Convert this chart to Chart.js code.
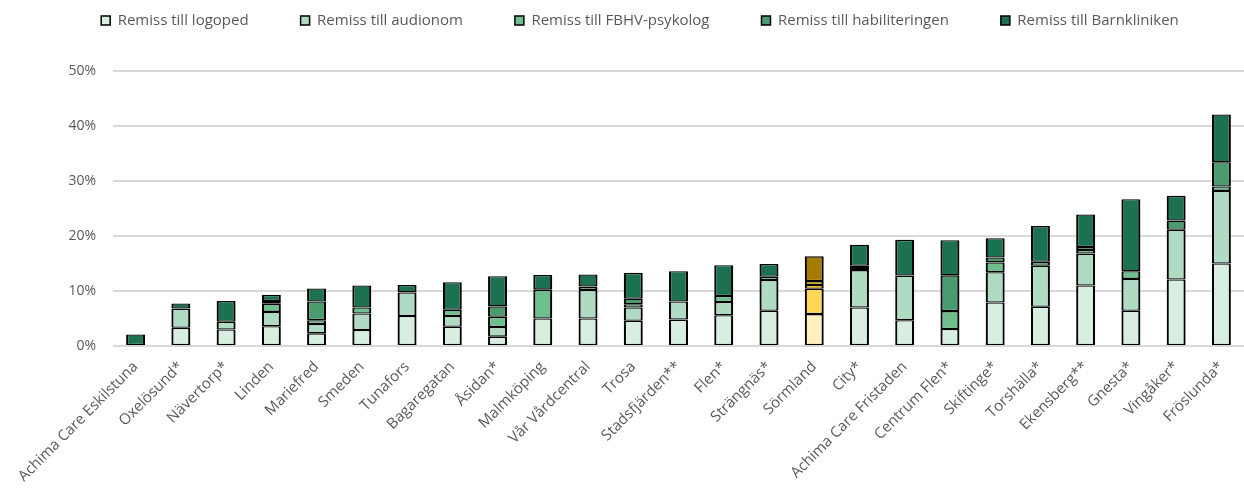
<!DOCTYPE html>
<html>
<head>
<meta charset="utf-8">
<script src="https://cdn.jsdelivr.net/npm/chart.js@4.4.1/dist/chart.umd.min.js"></script>
<style>
    html, body { margin: 0; padding: 0; background: #fff; }
    #wrap { width: 1244px; height: 491px; position: relative; }
</style>
</head>
<body>
<div id="wrap"><canvas id="remiss-chart"></canvas></div>
<script>
// Vårdcentraler, sorterade efter total andel remisser
const categories = ['Achima Care Eskilstuna', 'Oxelösund*', 'Nävertorp*', 'Linden', 'Mariefred', 'Smeden',
    'Tunafors', 'Bagaregatan', 'Åsidan*', 'Malmköping', 'Vår Vårdcentral', 'Trosa', 'Stadsfjärden**',
    'Flen*', 'Strängnäs*', 'Sörmland', 'City*', 'Achima Care Fristaden', 'Centrum Flen*', 'Skiftinge*',
    'Torshälla*', 'Ekensberg**', 'Gnesta*', 'Vingåker*', 'Fröslunda*'];

// andel i procent
const logoped      = [0, 3.3, 3.0, 3.6, 2.3, 2.9, 5.45, 3.5, 1.7, 5.0, 5.0, 4.6, 4.8, 5.6, 6.4, 5.8, 7.0, 4.7, 3.1, 7.9, 7.15, 11.0, 6.4, 12.1, 15.0];
const audionom     = [0, 3.5, 1.4, 2.6, 1.7, 3.0, 4.3, 1.95, 1.75, 0, 5.2, 2.4, 3.3, 2.4, 5.6, 4.6, 6.8, 8.1, 0, 5.5, 7.45, 5.8, 5.8, 9.05, 13.2];
const fbhvPsykolog = [0, 0, 0, 1.5, 0.7, 1.1, 0, 1.15, 1.85, 5.25, 0.6, 0.6, 0, 1.1, 0.6, 0.7, 0.4, 0, 3.25, 1.8, 0, 0.65, 1.4, 0, 0.8];
const habilitering = [0, 0, 0, 0.5, 3.4, 0, 0, 0, 1.9, 0, 0, 1.0, 0, 0, 0, 0.7, 0.4, 0, 6.5, 0.9, 0.7, 0.55, 0, 1.65, 4.4];
const barnkliniken = [2.1, 0.95, 3.8, 1.1, 2.35, 4.0, 1.35, 5.0, 5.5, 2.65, 2.2, 4.7, 5.5, 5.6, 2.3, 4.5, 3.8, 6.5, 6.4, 3.5, 6.5, 5.9, 13.1, 4.5, 8.7];

const yTicks = [0, 10, 20, 30, 40, 50];

const regionIdx = categories.indexOf('Sörmland');
const textFont = 'Open Sans';

function makeSet(label, data, green, yellow) {
    return {
        label: label,
        data: data,
        backgroundColor: ctx => ctx.dataIndex === regionIdx ? yellow : green,
        borderColor: '#000',
        borderWidth: { top: 1.3, bottom: 1.3, left: 2.2, right: 2.2 },
        borderSkipped: false
    };
}

const legendBox = {
    id: 'legendBox',
    beforeInit(chart) {
        const fit = chart.legend.fit;
        chart.legend.fit = function () {
            fit.bind(chart.legend)();
            this.height = 71;
        };
    },
    afterLayout(chart) {
        const lg = chart.legend;
        lg.left += 18;
        lg.right += 18;
        lg.top -= 39;
        lg.bottom -= 39;
    }
};

new Chart(document.getElementById('remiss-chart'), {
    type: 'bar',
    data: {
        labels: categories,
        datasets: [
            makeSet('Remiss till logoped', logoped, '#d8eee0', '#fff0bf'),
            makeSet('Remiss till audionom', audionom, '#afdbc3', '#ffd655'),
            makeSet('Remiss till FBHV-psykolog', fbhvPsykolog, '#6fbf8e', '#f5bd1e'),
            makeSet('Remiss till habiliteringen', habilitering, '#4a9b6d', '#d9a310'),
            makeSet('Remiss till Barnkliniken', barnkliniken, '#1c7150', '#a67c00')
        ]
    },
    options: {
        responsive: true,
        maintainAspectRatio: false,
        animation: false,
        layout: { padding: 0 },
        datasets: {
            bar: { categoryPercentage: 1, barPercentage: 0.42 }
        },
        plugins: {
            legend: {
                position: 'top',
                labels: {
                    font: { family: textFont, size: 15 },
                    color: '#595959',
                    boxWidth: 9,
                    boxHeight: 9,
                    padding: 52,
                    generateLabels(chart) {
                        return Chart.defaults.plugins.legend.labels.generateLabels(chart).map(l => {
                            l.lineWidth = 1.5;
                            l.strokeStyle = '#000';
                            return l;
                        });
                    }
                }
            },
            tooltip: { enabled: false }
        },
        scales: {
            x: {
                stacked: true,
                grid: { display: false },
                border: { display: false },
                ticks: {
                    autoSkip: false,
                    maxRotation: 45,
                    minRotation: 45,
                    padding: 4,
                    color: '#595959',
                    font: { family: textFont, size: 15 }
                },
                afterFit(scale) { scale.height = 145; }
            },
            y: {
                stacked: true,
                min: 0,
                max: 50,
                afterBuildTicks(scale) { scale.ticks = yTicks.map(v => ({ value: v })); },
                grid: { color: '#d9d9d9', lineWidth: 2, drawTicks: false },
                border: { display: false },
                ticks: {
                    padding: 17,
                    color: '#595959',
                    font: { family: textFont, size: 14 },
                    callback: v => v + '%'
                },
                afterFit(scale) { scale.width = 113; }
            }
        }
    },
    plugins: [legendBox]
});
</script>
</body>
</html>
